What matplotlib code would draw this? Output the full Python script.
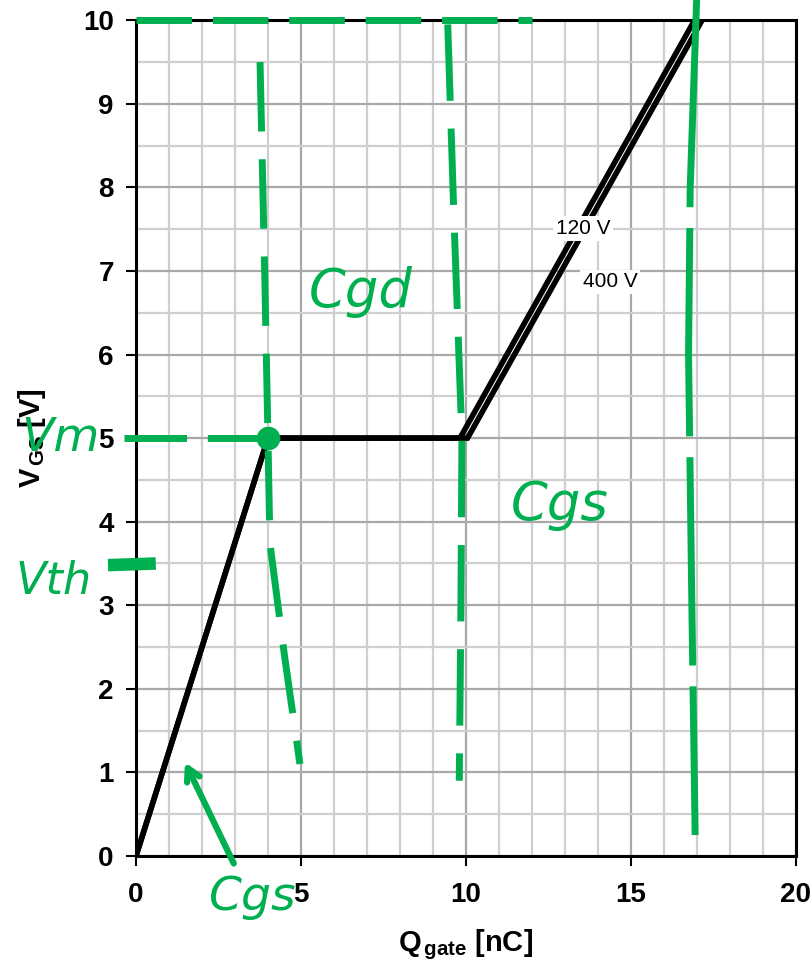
import matplotlib
matplotlib.use('Agg')
import matplotlib.pyplot as plt
from matplotlib.ticker import MultipleLocator

plt.rcParams['font.family'] = ['Liberation Sans', 'DejaVu Sans']
plt.rcParams['mathtext.fontset'] = 'custom'
plt.rcParams['mathtext.rm'] = 'Liberation Sans:bold'
plt.rcParams['mathtext.it'] = 'Liberation Sans:bold'
plt.rcParams['mathtext.bf'] = 'Liberation Sans:bold'

# gate charge curves (Q in nC, V in V)
q_120 = [0, 4, 9.82, 16.93]
v_120 = [0, 5, 5, 10]
q_400 = [0, 4, 10.05, 17.16]
v_400 = [0, 5, 5, 10]

# curve labels
curve_labels = ['120 V', '400 V']
label_q = [13.55, 14.37]
label_v = [7.51, 6.87]

# hand drawn green annotations
top_q = [0.0, 12.0]
top_v = [10.0, 10.0]
vm_q = [-0.35, 4.0]
vm_v = [5.0, 5.0]
cgs_edge_q = [3.76, 3.9, 4.0, 4.06, 4.5, 4.97]
cgs_edge_v = [9.5, 7.0, 5.0, 3.74, 2.4, 1.1]
plateau_end_q = [9.45, 9.65, 9.88, 9.85, 9.8]
plateau_end_v = [9.95, 7.5, 5.0, 3.0, 0.9]
top_end_q = [17.0, 16.8, 16.75, 16.85, 16.95]
top_end_v = [10.3, 8.0, 6.0, 3.0, 0.25]
vth_q = [-0.85, 0.6]
vth_v = [3.48, 3.5]
dot_q = [4.0]
dot_v = [5.0]

green = '#00b050'

fig = plt.figure(figsize=(8.12, 9.65), dpi=100)
ax = fig.add_axes([0.1675, 0.113, 0.8125, 0.866])

ax.set_xlim(0, 20)
ax.set_ylim(0, 10)
ax.xaxis.set_major_locator(MultipleLocator(5))
ax.xaxis.set_minor_locator(MultipleLocator(1))
ax.yaxis.set_major_locator(MultipleLocator(1))
ax.yaxis.set_minor_locator(MultipleLocator(0.5))
ax.set_axisbelow(True)
ax.grid(which='minor', color='#cfcfcf', linewidth=1.6)
ax.grid(which='major', color='#a8a8a8', linewidth=1.6)
ax.tick_params(which='minor', length=0)
ax.tick_params(axis='x', which='major', length=7, width=1.5, pad=12, labelsize=20)
ax.tick_params(axis='y', which='major', length=7, width=1.5, pad=9, labelsize=20)
for lbl in ax.get_xticklabels() + ax.get_yticklabels():
    lbl.set_fontweight('bold')
for sp in ax.spines.values():
    sp.set_linewidth(2.2)

ax.plot(q_120, v_120, color='black', linewidth=4.0, solid_joinstyle='miter', zorder=3)
ax.plot(q_400, v_400, color='black', linewidth=4.0, solid_joinstyle='miter', zorder=3)

for txt, q, v in zip(curve_labels, label_q, label_v):
    ax.text(q, v, txt, fontsize=15, ha='center', va='center', zorder=4,
            bbox=dict(facecolor='white', edgecolor='none', pad=2))

ax.set_xlabel(r'$Q_{\,\rm gate}$ [nC]', fontsize=21, fontweight='bold')
ax.set_ylabel(r'$V_{\,\rm GS}$ [V]', fontsize=21, fontweight='bold')
ax.xaxis.set_label_coords(0.5, -0.085)
ax.yaxis.set_label_coords(-0.133, 0.5)

# green pen marks
ax.plot(top_q, top_v, color=green, linewidth=5, dashes=(8, 3), clip_on=False, zorder=5)
ax.plot(vm_q, vm_v, color=green, linewidth=5, dashes=(9, 3), clip_on=False, zorder=5)
ax.plot(cgs_edge_q, cgs_edge_v, color=green, linewidth=5, dashes=(10, 4), clip_on=False, zorder=5)
ax.plot(plateau_end_q, plateau_end_v, color=green, linewidth=5, dashes=(11, 4), clip_on=False, zorder=5)
ax.plot(top_end_q, top_end_v, color=green, linewidth=5, dashes=(30, 3), clip_on=False, zorder=5)
ax.plot(vth_q, vth_v, color=green, linewidth=9, solid_capstyle='butt', clip_on=False, zorder=5)
ax.plot(dot_q, dot_v, 'o', color=green, markersize=16, clip_on=False, zorder=6)

ax.text(6.8, 6.75, 'Cgd', color=green, fontsize=38, style='italic', family='DejaVu Sans',
        ha='center', va='center', zorder=6)
ax.text(12.85, 4.2, 'Cgs', color=green, fontsize=38, style='italic', family='DejaVu Sans',
        ha='center', va='center', zorder=6)
ax.text(3.5, -0.5, 'Cgs', color=green, fontsize=34, style='italic', family='DejaVu Sans',
        ha='center', va='center', zorder=6, clip_on=False)
ax.text(-2.3, 5.0, 'Vm', color=green, fontsize=34, style='italic', family='DejaVu Sans',
        ha='center', va='center', zorder=6, clip_on=False)
ax.text(-2.5, 3.28, 'Vth', color=green, fontsize=32, style='italic', family='DejaVu Sans',
        ha='center', va='center', zorder=6, clip_on=False)
ax.annotate('', xy=(1.45, 1.15), xytext=(3.0, -0.12),
            arrowprops=dict(arrowstyle='->,head_length=0.9,head_width=0.5', color=green, lw=4.5),
            annotation_clip=False, zorder=6)

fig.savefig('out.png', dpi=100)
